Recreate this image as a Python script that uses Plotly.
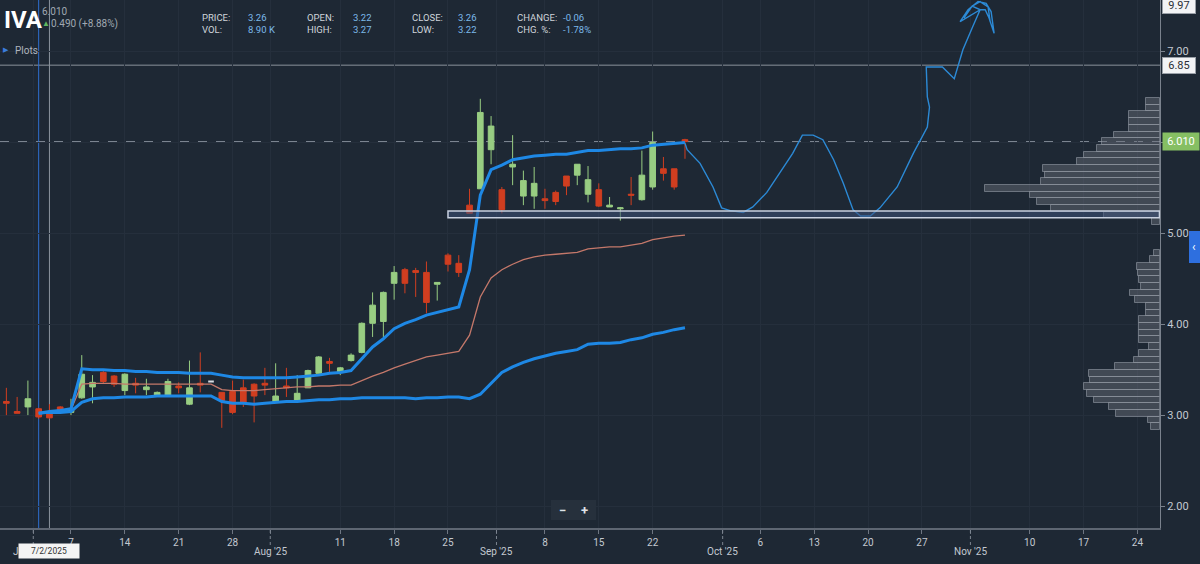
import numpy as np
import plotly.graph_objects as go

# ---------------- data ----------------
ORIGIN = "2025-06-26"
HOLIDAYS = ["2025-07-04", "2025-09-01", "2025-11-27"]

dates = ["2025-06-26", "2025-06-27", "2025-06-30", "2025-07-01", "2025-07-02", "2025-07-03",
         "2025-07-07", "2025-07-08", "2025-07-09", "2025-07-10", "2025-07-11", "2025-07-14",
         "2025-07-15", "2025-07-16", "2025-07-17", "2025-07-18", "2025-07-21", "2025-07-22",
         "2025-07-23", "2025-07-24", "2025-07-25", "2025-07-28", "2025-07-29", "2025-07-30",
         "2025-07-31", "2025-08-01", "2025-08-04", "2025-08-05", "2025-08-06", "2025-08-07",
         "2025-08-08", "2025-08-11", "2025-08-12", "2025-08-13", "2025-08-14", "2025-08-15",
         "2025-08-18", "2025-08-19", "2025-08-20", "2025-08-21", "2025-08-22", "2025-08-25",
         "2025-08-26", "2025-08-27", "2025-08-28", "2025-08-29", "2025-09-02", "2025-09-03",
         "2025-09-04", "2025-09-05", "2025-09-08", "2025-09-09", "2025-09-10", "2025-09-11",
         "2025-09-12", "2025-09-15", "2025-09-16", "2025-09-17", "2025-09-18", "2025-09-19",
         "2025-09-22", "2025-09-23", "2025-09-24", "2025-09-25"]

opens = [3.15, 3.04, 3.09, 3.07, 3.02, 3.09, 3.03, 3.19, 3.31, 3.47, 3.43, 3.27, 3.35, 3.28, 3.21, 3.21,
         3.32, 3.12, 3.35, 3.37, 3.25, 3.26, 3.30, 3.34, 3.35, 3.15, 3.32, 3.15, 3.30, 3.46, 3.59, 3.47,
         3.60, 3.69, 4.01, 4.03, 4.45, 4.60, 4.59, 4.57, 4.44, 4.76, 4.67, 5.31, 5.49, 5.92, 5.48, 5.73,
         5.41, 5.41, 5.38, 5.45, 5.63, 5.64, 5.43, 5.48, 5.29, 5.27, 5.43, 5.37, 5.51, 5.71, 5.71, 6.03]
highs = [3.30, 3.20, 3.38, 3.08, 3.12, 3.10, 3.18, 3.66, 3.44, 3.49, 3.44, 3.46, 3.41, 3.40, 3.26, 3.40,
         3.36, 3.60, 3.69, 3.38, 3.25, 3.38, 3.39, 3.35, 3.52, 3.57, 3.52, 3.44, 3.50, 3.65, 3.63, 3.53,
         3.68, 4.02, 4.35, 4.36, 4.64, 4.62, 4.62, 4.69, 4.46, 4.78, 4.76, 5.49, 6.48, 6.29, 5.51, 6.08,
         5.69, 5.73, 5.49, 5.47, 5.63, 5.76, 5.74, 5.55, 5.40, 5.29, 5.62, 5.91, 6.12, 5.84, 5.71, 6.04]
lows = [3.00, 3.02, 3.00, 2.96, 2.96, 3.04, 3.00, 3.18, 3.13, 3.35, 3.31, 3.22, 3.24, 3.22, 3.20, 3.20,
        3.24, 3.11, 3.25, 3.36, 2.86, 3.01, 3.09, 2.92, 3.22, 3.15, 3.20, 3.14, 3.30, 3.46, 3.47, 3.44,
        3.59, 3.68, 3.86, 3.86, 4.27, 4.34, 4.30, 4.12, 4.26, 4.58, 4.52, 5.22, 5.49, 5.76, 5.22, 5.53,
        5.31, 5.27, 5.27, 5.31, 5.42, 5.53, 5.34, 5.29, 5.29, 5.14, 5.31, 5.36, 5.48, 5.58, 5.48, 5.82]
closes = [3.13, 3.02, 3.18, 2.98, 2.97, 3.05, 3.06, 3.45, 3.36, 3.37, 3.34, 3.45, 3.33, 3.31, 3.25, 3.37,
          3.30, 3.30, 3.33, 3.37, 3.16, 3.03, 3.14, 3.21, 3.33, 3.21, 3.30, 3.24, 3.49, 3.64, 3.57, 3.52,
          3.66, 4.01, 4.21, 4.35, 4.57, 4.45, 4.57, 4.24, 4.46, 4.66, 4.57, 5.22, 6.33, 6.18, 5.26, 5.76,
          5.58, 5.55, 5.36, 5.35, 5.52, 5.76, 5.59, 5.30, 5.31, 5.28, 5.42, 5.64, 6.00, 5.66, 5.51, 6.01]

# anchored VWAP bands, from 2025-07-01 onward
band_dates = dates[3:]
upper_band = [3.02, 3.04, 3.05, 3.07, 3.51, 3.50, 3.50, 3.49, 3.49, 3.48, 3.48, 3.47, 3.47, 3.47, 3.46,
              3.46, 3.46, 3.44, 3.42, 3.41, 3.41, 3.41, 3.41, 3.41, 3.42, 3.43, 3.44, 3.46, 3.47, 3.49,
              3.62, 3.75, 3.84, 3.95, 4.01, 4.05, 4.10, 4.13, 4.16, 4.19, 4.60, 5.42, 5.70, 5.75, 5.81,
              5.83, 5.85, 5.86, 5.87, 5.87, 5.89, 5.91, 5.91, 5.92, 5.93, 5.93, 5.94, 5.97, 5.98, 5.99, 6.00]
vwap_line = [3.02, 3.04, 3.05, 3.06, 3.34, 3.35, 3.35, 3.35, 3.34, 3.34, 3.34, 3.34, 3.34, 3.34, 3.34,
             3.34, 3.34, 3.28, 3.27, 3.27, 3.27, 3.28, 3.29, 3.30, 3.31, 3.31, 3.32, 3.32, 3.33, 3.33,
             3.38, 3.43, 3.47, 3.52, 3.56, 3.60, 3.64, 3.66, 3.68, 3.70, 3.88, 4.30, 4.51, 4.60, 4.66,
             4.71, 4.74, 4.76, 4.77, 4.78, 4.79, 4.83, 4.84, 4.85, 4.85, 4.87, 4.89, 4.93, 4.95, 4.97, 4.98]
lower_band = [3.02, 3.03, 3.03, 3.04, 3.14, 3.18, 3.19, 3.19, 3.20, 3.20, 3.20, 3.21, 3.21, 3.21, 3.21,
              3.21, 3.21, 3.15, 3.13, 3.13, 3.12, 3.13, 3.14, 3.15, 3.15, 3.16, 3.17, 3.17, 3.18, 3.18,
              3.19, 3.19, 3.19, 3.19, 3.19, 3.18, 3.19, 3.19, 3.20, 3.20, 3.18, 3.23, 3.35, 3.47, 3.53,
              3.58, 3.62, 3.65, 3.68, 3.70, 3.72, 3.78, 3.79, 3.79, 3.80, 3.83, 3.85, 3.89, 3.91, 3.94, 3.96]

# hand-drawn projection (x = trading days after ORIGIN)
forecast_x = [63.0, 63.2, 64.4, 65.6, 66.4, 67.2, 68.4, 69.3, 70.6, 71.8, 73.0, 73.9, 74.9, 75.8, 76.8,
              77.7, 78.6, 79.3, 80.2, 81.1, 82.7, 84.2, 85.5, 85.7, 85.5, 85.4, 86.9, 88.0, 88.4, 88.8,
              89.7, 90.4, 88.54, 89.28, 90.21, 90.96, 91.42, 91.70, 91.23, 90.87, 90.40, 89.66, 88.91,
              89.66, 90.40, 91.14, 91.33]
forecast_y = [5.99, 5.92, 5.77, 5.51, 5.28, 5.25, 5.23, 5.29, 5.45, 5.66, 5.88, 6.08, 6.08, 6.03, 5.81,
              5.55, 5.26, 5.19, 5.19, 5.28, 5.51, 5.88, 6.17, 6.39, 6.50, 6.83, 6.83, 6.70, 6.85, 7.02,
              7.27, 7.46, 7.33, 7.46, 7.55, 7.53, 7.44, 7.20, 7.37, 7.46, 7.46, 7.50, 7.37, 7.50, 7.55,
              7.49, 7.33]

# volume profile (bins from bottom up)
profile_low_start, profile_high_start, profile_step = 2.836, 5.091, 0.0735
profile_low_vol = [9, 12, 44, 51, 66, 73, 76, 70, 71, 45, 26, 21, 11, 21, 21, 21, 21, 14, 14, 25, 30,
                   19, 21, 22, 23, 10, 6]
profile_high_vol = [8, 56, 109, 123, 130, 175, 119, 115, 117, 83, 76, 63, 58, 46, 31, 31, 31, 14, 14]

zone_low, zone_high, zone_start = 5.17, 5.245, "2025-08-25"
resistance_level = 6.85
last_price = 6.01
top_label = "9.97"

week_ticks = ["2025-07-07", "2025-07-14", "2025-07-21", "2025-07-28", "2025-08-11", "2025-08-18",
              "2025-08-25", "2025-09-08", "2025-09-15", "2025-09-22", "2025-10-06", "2025-10-13",
              "2025-10-20", "2025-10-27", "2025-11-10", "2025-11-17", "2025-11-24"]
month_starts = ["2025-07-01", "2025-08-01", "2025-09-02", "2025-10-01", "2025-11-03"]
month_labels = ["J", "Aug '25", "Sep '25", "Oct '25", "Nov '25"]
price_ticks = [2, 3, 4, 5, 6, 7]

header_rows = [
    [("PRICE:", "3.26"), ("OPEN:", "3.22"), ("CLOSE:", "3.26"), ("CHANGE:", "-0.06")],
    [("VOL:", "8.90 K"), ("HIGH:", "3.27"), ("LOW:", "3.22"), ("CHG. %:", "-1.78%")],
]

# ---------------- helpers ----------------
def tday(d):
    return int(np.busday_count(ORIGIN, d, holidays=HOLIDAYS))

W, H = 1200, 564
PW, PH = 1160, 528
def fx(px):
    return px / PW
def fy(py):
    return 1 - py / PH

BG = "#1e2834"
GRID = "#252f3c"
TXT = "#c3c9d1"
GREEN = "#98cd82"
RED = "#d03e20"
BLUE = "#1e88e5"

xi = [tday(d) for d in dates]
flat = [o == c for o, c in zip(opens, closes)]

fig = go.Figure()

# volume profile
lo_centers = [profile_low_start + profile_step * (i + 0.5) for i in range(len(profile_low_vol))]
hi_centers = [profile_high_start + profile_step * (i + 0.5) for i in range(len(profile_high_vol))]
fig.add_trace(go.Bar(
    x=profile_low_vol + profile_high_vol, y=lo_centers + hi_centers, orientation="h",
    width=profile_step, xaxis="x2", yaxis="y",
    marker=dict(color="rgba(108,114,124,0.45)", line=dict(color="rgba(150,156,166,0.6)", width=1)),
    hoverinfo="skip"))

# bands
bx = [tday(d) for d in band_dates]
fig.add_trace(go.Scatter(x=bx, y=vwap_line, mode="lines", line=dict(color="#c4786a", width=1.3), hoverinfo="skip"))
fig.add_trace(go.Scatter(x=bx, y=upper_band, mode="lines", line=dict(color=BLUE, width=3), hoverinfo="skip"))
fig.add_trace(go.Scatter(x=bx, y=lower_band, mode="lines", line=dict(color=BLUE, width=3), hoverinfo="skip"))

# candles
def pick(arr, keep):
    return [a for a, k in zip(arr, keep) if k]
main = [not f for f in flat]
fig.add_trace(go.Candlestick(
    x=pick(xi, main), open=pick(opens, main), high=pick(highs, main),
    low=pick(lows, main), close=pick(closes, main), whiskerwidth=0,
    increasing=dict(line=dict(color=GREEN, width=1), fillcolor=GREEN),
    decreasing=dict(line=dict(color=RED, width=1), fillcolor=RED), hoverinfo="skip"))
if any(flat):
    fig.add_trace(go.Candlestick(
        x=pick(xi, flat), open=pick(opens, flat), high=pick(highs, flat),
        low=pick(lows, flat), close=pick(closes, flat), whiskerwidth=0,
        increasing=dict(line=dict(color="#d8dde3", width=2), fillcolor="#d8dde3"),
        decreasing=dict(line=dict(color="#d8dde3", width=2), fillcolor="#d8dde3"), hoverinfo="skip"))

# projection
fig.add_trace(go.Scatter(x=forecast_x, y=forecast_y, mode="lines",
                         line=dict(color="#2c8ad6", width=1.4), hoverinfo="skip"))

xr = [-0.59, 107.1]
shapes = [
    dict(type="line", xref="paper", yref="y", x0=0, x1=1, y0=resistance_level, y1=resistance_level,
         line=dict(color="#8a929c", width=1), layer="below"),
    dict(type="line", xref="paper", yref="y", x0=0, x1=1, y0=last_price, y1=last_price,
         line=dict(color="#7d8792", width=1, dash="dash"), layer="below"),
    dict(type="rect", xref="x", yref="y", x0=tday(zone_start), x1=xr[1] - 0.05, y0=zone_low, y1=zone_high,
         line=dict(color="#c9d1e0", width=1.5), fillcolor="rgba(62,82,122,0.55)", layer="above"),
    dict(type="line", xref="x", yref="paper", x0=tday("2025-07-01"), x1=tday("2025-07-01"), y0=0, y1=1,
         line=dict(color="#2f6fcf", width=1), layer="below"),
    dict(type="line", xref="x", yref="paper", x0=tday("2025-07-02"), x1=tday("2025-07-02"), y0=0, y1=1,
         line=dict(color="#8c949e", width=1), layer="below"),
    # zoom control box
    dict(type="rect", xref="paper", yref="paper", x0=fx(551), x1=fx(596), y0=fy(520), y1=fy(500),
         line=dict(width=0), fillcolor="#26303c", layer="above"),
    # side tab
    dict(type="rect", xref="paper", yref="paper", x0=fx(1189), x1=fx(1204), y0=fy(263), y1=fy(231),
         line=dict(width=0), fillcolor="#2e6fdf", layer="above"),
]
for d in month_starts:
    p = tday(d) - 0.5
    shapes.append(dict(type="line", xref="x", yref="paper", x0=p, x1=p, y0=fy(530), y1=fy(547),
                       line=dict(color="#7d8590", width=1, dash="dot")))

ann = []
def text(x, y, s, size=10, color=TXT, anchor="left", **kw):
    ann.append(dict(x=x, y=y, xref="paper", yref="paper", text=s, showarrow=False,
                    xanchor=anchor, yanchor="middle", font=dict(size=size, color=color), **kw))

text(fx(2), fy(20), "<b>IVA</b>", size=24, color="#ffffff")
text(fx(40), fy(12), "6.010", size=10, color="#a0a8b2")
text(fx(40), fy(24), "▲", size=8, color="#5fb760")
text(fx(49), fy(24), "0.490 (+8.88%)", size=10, color="#a0a8b2")
col_x = [200, 305, 410, 515]
for r, row in enumerate(header_rows):
    for c, (lab, val) in enumerate(row):
        yy = fy(17 + 13 * r)
        text(fx(col_x[c]), yy, lab, size=9.5, color="#cfd4da")
        text(fx(col_x[c] + 46), yy, val, size=9.5, color="#7cb9ea")
text(fx(1), fy(50), "▶", size=7, color="#3b7ddd")
text(fx(13), fy(50), "Plots", size=10, color="#aeb5be")

for d, lab in zip(month_starts, month_labels):
    short = len(lab) == 1
    ann.append(dict(x=tday(d) - 0.5, y=fy(551), xref="x", yref="paper", text=lab, showarrow=False,
                    xanchor="right" if short else "center", xshift=-12 if short else 0,
                    yanchor="middle", font=dict(size=10, color=TXT)))
ann.append(dict(x=tday("2025-07-02"), y=fy(551), xref="x", yref="paper", text="7/2/2025", showarrow=False,
                xanchor="center", yanchor="middle", font=dict(size=8.5, color="#333"),
                bgcolor="#f4f4f4", width=58, height=12, borderpad=1))
text(fx(562), fy(510), "<b>−</b>", size=13, color="#dfe3e8", anchor="center")
text(fx(584), fy(510), "<b>+</b>", size=13, color="#dfe3e8", anchor="center")
text(fx(1194), fy(247), "‹", size=12, color="#ffffff", anchor="center")

# right-hand price labels
ann.append(dict(x=1, y=fy(6), xref="paper", yref="paper", text=top_label, showarrow=False, xanchor="left",
                xshift=2, yanchor="middle", font=dict(size=11, color="#2a2f36"), bgcolor="#f2f3f5",
                bordercolor="#9aa0a8", borderwidth=1, borderpad=1, width=30))
ann.append(dict(x=1, y=resistance_level, xref="paper", yref="y", text=f"{resistance_level:.2f}",
                showarrow=False, xanchor="left", xshift=2, yanchor="middle",
                font=dict(size=11, color="#2a2f36"), bgcolor="#f2f3f5", bordercolor="#9aa0a8",
                borderwidth=1, borderpad=1, width=30))
ann.append(dict(x=1, y=last_price, xref="paper", yref="y", text=f"{last_price:.3f}", showarrow=False,
                xanchor="left", xshift=2, yanchor="middle", font=dict(size=11, color="#ffffff"),
                bgcolor="#86bf63", borderpad=2, width=32))

tick_vals = [tday(d) for d in week_ticks] + [tday(d) - 0.5 for d in month_starts]
tick_text = [str(int(d[-2:])) for d in week_ticks] + [""] * len(month_starts)

fig.update_layout(
    width=W, height=H, margin=dict(l=0, r=W - PW, t=0, b=H - PH),
    paper_bgcolor=BG, plot_bgcolor=BG, showlegend=False, boxgap=0.25,
    font=dict(family="Roboto, 'Open Sans', sans-serif", color=TXT),
    xaxis=dict(range=xr, tickmode="array", tickvals=tick_vals, ticktext=tick_text,
               showgrid=True, gridcolor=GRID, zeroline=False, showline=True, linecolor="#5e6672",
               linewidth=2, ticks="outside", ticklen=4, tickcolor="#6e7682",
               tickfont=dict(size=10, color=TXT), rangeslider=dict(visible=False),
               automargin=False, fixedrange=True),
    xaxis2=dict(overlaying="x", anchor="y", range=[PW, 0], visible=False, fixedrange=True),
    yaxis=dict(side="right", range=[1.758, 7.567], tickmode="array", tickvals=price_ticks,
               ticktext=[f"{v:.2f}" if v != 6 else "" for v in price_ticks],
               showgrid=True, gridcolor=GRID, zeroline=False, showline=True, linecolor="#7a828d",
               linewidth=1, ticks="outside", ticklen=4, tickcolor="#7a828d",
               tickfont=dict(size=11, color=TXT), automargin=False, fixedrange=True),
    shapes=shapes, annotations=ann, bargap=0,
)

fig.write_html("out.html", config={"displayModeBar": False},
               post_script="document.body.style.margin='0px';document.body.style.background='%s';" % BG)
